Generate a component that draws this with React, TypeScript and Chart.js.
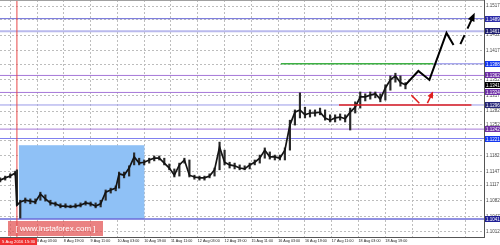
import { useEffect, useRef } from "react";
import { Chart, registerables } from "chart.js";

Chart.register(...registerables);

// ---------- axes ----------
const X_MIN = -22.1;
const X_MAX = 266.9;
const Y_MIN = 1.10008;
const Y_MAX = 1.15307;

const xTickBars = [-16, 0, 16, 32, 48, 64, 80, 96, 112, 128, 144, 160, 176, 192, 208, 224, 240, 256];
const xTickLabels = [
  "", "8 Aug 03:00", "8 Aug 19:00", "9 Aug 11:00", "10 Aug 03:00", "10 Aug 19:00", "11 Aug 11:00",
  "12 Aug 03:00", "12 Aug 19:00", "15 Aug 11:00", "16 Aug 03:00", "16 Aug 19:00", "17 Aug 11:00",
  "18 Aug 03:00", "18 Aug 19:00", "", "", "",
];
const yTickValues = [
  1.1012, 1.1047, 1.1082, 1.1117, 1.1147, 1.1182, 1.1217, 1.1252, 1.1282, 1.1317, 1.1352, 1.1387,
  1.1417, 1.1452, 1.1487, 1.1517,
];

// ---------- price (H1 bars, sampled) ----------
const priceBars = [
  -22, -19, -16, -13, -12, -10, -7, -4, -1, 2, 5, 8, 11, 14, 17, 20, 23, 26, 29, 32, 35, 38, 41, 44, 47,
  49, 52, 55, 58, 61, 64, 67, 70, 73, 76, 79, 82, 85, 88, 91, 94, 97, 100, 103, 106, 109, 112, 115, 118,
  121, 124, 127, 130, 133, 136, 139, 142, 145, 148, 151, 154, 157, 160, 163, 166, 169, 172, 175, 178,
  181, 184, 187, 190, 193, 196, 199, 202, 205, 208, 211, 214, 217, 220,
];
const priceClose = [
  1.1128, 1.1133, 1.1137, 1.1144, 1.1072, 1.1079, 1.1083, 1.1081, 1.1079, 1.1097, 1.1086, 1.1077, 1.1075,
  1.107, 1.107, 1.1068, 1.107, 1.1072, 1.1077, 1.1075, 1.107, 1.1075, 1.1101, 1.1106, 1.111, 1.1142,
  1.1139, 1.1155, 1.118, 1.1166, 1.1168, 1.1173, 1.1177, 1.1177, 1.1166, 1.1155, 1.1139, 1.1162, 1.1173,
  1.1139, 1.1135, 1.1133, 1.1133, 1.1137, 1.1151, 1.1202, 1.1168, 1.1162, 1.116, 1.1155, 1.1153, 1.1162,
  1.1168, 1.1177, 1.1195, 1.118, 1.118, 1.1177, 1.1195, 1.1251, 1.128, 1.1285, 1.1274, 1.1278, 1.1278,
  1.128, 1.1267, 1.1262, 1.1267, 1.1269, 1.1265, 1.128, 1.1291, 1.1314, 1.1314, 1.1318, 1.1321, 1.1309,
  1.1334, 1.1352, 1.1361, 1.1346, 1.1341,
];
const priceLow = [
  1.1124, 1.1128, 1.1133, 1.1139, 1.1072, 1.1043, 1.1077, 1.1075, 1.1075, 1.1083, 1.1081, 1.1072, 1.107,
  1.1066, 1.1066, 1.1066, 1.1066, 1.1068, 1.1072, 1.107, 1.1066, 1.1068, 1.1083, 1.1099, 1.1104, 1.111,
  1.1133, 1.1137, 1.1162, 1.1162, 1.1162, 1.1166, 1.1171, 1.1173, 1.1162, 1.1151, 1.1135, 1.1137, 1.1166,
  1.1135, 1.113, 1.1128, 1.1128, 1.1133, 1.1137, 1.1151, 1.1162, 1.1155, 1.1153, 1.1151, 1.1151, 1.1153,
  1.1162, 1.1166, 1.1177, 1.1175, 1.1173, 1.1173, 1.1173, 1.1195, 1.1251, 1.1267, 1.1267, 1.1269, 1.1271,
  1.1274, 1.1262, 1.1258, 1.1258, 1.1262, 1.1258, 1.124, 1.1278, 1.1289, 1.1305, 1.1309, 1.1312, 1.1303,
  1.1307, 1.1329, 1.1347, 1.1338, 1.1332,
];
const priceHigh = [
  1.1133, 1.1137, 1.1142, 1.1148, 1.1151, 1.1083, 1.1088, 1.1086, 1.1086, 1.1101, 1.1095, 1.1083, 1.1079,
  1.1075, 1.1075, 1.1072, 1.1075, 1.1077, 1.1081, 1.1079, 1.1077, 1.1083, 1.1106, 1.111, 1.1115, 1.1146,
  1.1146, 1.116, 1.1189, 1.1177, 1.1173, 1.1177, 1.1182, 1.1182, 1.1177, 1.1164, 1.1153, 1.1166, 1.1177,
  1.1173, 1.1139, 1.1137, 1.1137, 1.1142, 1.1155, 1.1213, 1.1195, 1.1168, 1.1166, 1.1162, 1.116, 1.1166,
  1.1173, 1.1184, 1.12, 1.1191, 1.1184, 1.1184, 1.12, 1.1262, 1.1285, 1.1323, 1.1291, 1.1285, 1.1285,
  1.1289, 1.1285, 1.1274, 1.1274, 1.1276, 1.1274, 1.1289, 1.1303, 1.1325, 1.1321, 1.1325, 1.1325, 1.1321,
  1.1341, 1.1361, 1.1367, 1.1361, 1.1346,
];

// ---------- drawn objects ----------
const levelValues = [1.1489, 1.1461, 1.1388, 1.1362, 1.1324, 1.1296, 1.1242, 1.1221, 1.1041];
const levelFrom = [null, null, 236.7, null, null, null, null, null, null];
const levelColors = ["#6b6bd8", "#b9b9ec", "#7f7fe8", "#a678d8", "#a678d8", "#9a9ae8", "#a678d8", "#8080f0", "#6b6bd8"];
const levelWidths = [1, 2, 1, 1, 1, 1, 1, 1, 1.5];
const levelBoxColors = ["#2b2ba8", "#1c1c6e", "#1437f0", "#6e2fa6", "#6e2fa6", "#262678", "#6e2fa6", "#1437f0", "#1f1f96"];

const bidValue = 1.1341;

const greenBars = [145.6, 236.7];
const greenValue = 1.1388;

const rectBars = [-10.8, 64.1];
const rectValues = [1.1041, 1.1206];

const markerBar = -12;
const markerLabel = "5 Aug 2016 15:30";

const forecastBars = [220, 227.7, 234.3, 244.5, 248.7];
const forecastValues = [1.1341, 1.1372, 1.1352, 1.1457, 1.143];
const forecastDashBars = [252.8, 261];
const forecastDashValues = [1.1432, 1.1499];

const redLineBars = [180.3, 259.4];
const redLineValue = 1.1296;
const redSlashBars = [223.5, 228.3];
const redSlashValues = [1.1318, 1.13];
const redArrowBars = [233.1, 236.1];
const redArrowValues = [1.13, 1.1323];

const watermark = "[ www.instaforex.com ]";

const FONT = '"Liberation Sans", Arial, sans-serif';

function arrowHead(ctx: CanvasRenderingContext2D, fx: number, fy: number, tx: number, ty: number, len: number, half: number, color: string) {
  const a = Math.atan2(ty - fy, tx - fx);
  const c = Math.cos(a), s = Math.sin(a);
  const bx = tx - c * len, by = ty - s * len;
  ctx.save();
  ctx.fillStyle = color;
  ctx.beginPath();
  ctx.moveTo(tx + c * 1.5, ty + s * 1.5);
  ctx.lineTo(bx - s * half, by + c * half);
  ctx.lineTo(bx + s * half, by - c * half);
  ctx.closePath();
  ctx.fill();
  ctx.restore();
}

export default function App() {
  const ref = useRef<HTMLCanvasElement>(null);

  useEffect(() => {
    const canvas = ref.current;
    if (!canvas) return;

    const seg = (bars: number[], vals: number[]) => bars.map((b, i) => ({ x: b, y: vals[i] }));
    const hline = (from: number, to: number, v: number) => [{ x: from, y: v }, { x: to, y: v }];

    const datasets: any[] = [];
    levelValues.forEach((v, i) => {
      datasets.push({
        type: "line",
        data: hline(levelFrom[i] ?? X_MIN, X_MAX, v),
        borderColor: levelColors[i],
        borderWidth: levelWidths[i],
        pointRadius: 0,
        order: 30,
      });
    });
    datasets.push({
      type: "line",
      data: hline(greenBars[0], greenBars[1], greenValue),
      borderColor: "#3cb043",
      borderWidth: 1.5,
      pointRadius: 0,
      order: 29,
    });
    datasets.push({
      type: "line",
      data: [{ x: markerBar, y: Y_MIN }, { x: markerBar, y: Y_MAX }],
      borderColor: "#e84848",
      borderWidth: 1,
      pointRadius: 0,
      order: 28,
    });
    datasets.push({
      type: "bar",
      data: priceBars.map((b, i) => ({ x: b, y: [priceLow[i], priceHigh[i]] })),
      backgroundColor: "#2a2a2a",
      borderWidth: 0,
      barThickness: 1.5,
      order: 10,
    });
    datasets.push({
      type: "line",
      data: seg(priceBars, priceClose),
      borderColor: "#141414",
      borderWidth: 1.7,
      pointRadius: 0,
      tension: 0,
      order: 9,
    });
    datasets.push({
      type: "line",
      data: hline(redLineBars[0], redLineBars[1], redLineValue),
      borderColor: "#e02020",
      borderWidth: 1.5,
      pointRadius: 0,
      order: 5,
    });
    datasets.push({
      type: "line",
      data: seg(redSlashBars, redSlashValues),
      borderColor: "#e02020",
      borderWidth: 1.5,
      pointRadius: 0,
      order: 4,
    });
    datasets.push({
      type: "line",
      data: seg(redArrowBars, redArrowValues),
      borderColor: "#e02020",
      borderWidth: 1.5,
      pointRadius: 0,
      order: 4,
    });
    datasets.push({
      type: "line",
      data: seg(forecastBars, forecastValues),
      borderColor: "#000000",
      borderWidth: 2,
      pointRadius: 0,
      tension: 0,
      order: 2,
    });
    datasets.push({
      type: "line",
      data: seg(forecastDashBars, forecastDashValues),
      borderColor: "#000000",
      borderWidth: 2,
      borderDash: [10, 7],
      pointRadius: 0,
      order: 2,
    });

    const overlay = {
      id: "overlay",
      beforeDatasetsDraw(chart: any) {
        const { ctx, scales } = chart;
        const x = scales.x, y = scales.y;
        const x0 = x.getPixelForValue(rectBars[0]);
        const x1 = x.getPixelForValue(rectBars[1]);
        const y0 = y.getPixelForValue(rectValues[1]);
        const y1 = y.getPixelForValue(rectValues[0]);
        ctx.save();
        ctx.fillStyle = "#8fc1f6";
        ctx.fillRect(x0, y0, x1 - x0, y1 - y0);
        ctx.restore();
      },
      afterDatasetsDraw(chart: any) {
        const { ctx, scales } = chart;
        const x = scales.x, y = scales.y;
        const n = forecastDashBars.length;
        arrowHead(
          ctx,
          x.getPixelForValue(forecastDashBars[n - 2]), y.getPixelForValue(forecastDashValues[n - 2]),
          x.getPixelForValue(forecastDashBars[n - 1]), y.getPixelForValue(forecastDashValues[n - 1]),
          7, 3.5, "#000000"
        );
        arrowHead(
          ctx,
          x.getPixelForValue(redArrowBars[0]), y.getPixelForValue(redArrowValues[0]),
          x.getPixelForValue(redArrowBars[1]), y.getPixelForValue(redArrowValues[1]),
          5, 3, "#e02020"
        );
      },
      afterDraw(chart: any) {
        const { ctx, scales, chartArea } = chart;
        const x = scales.x, y = scales.y;
        ctx.save();
        // top frame
        ctx.strokeStyle = "#a0a0a0";
        ctx.lineWidth = 1;
        ctx.beginPath();
        ctx.moveTo(chartArea.left, chartArea.top + 0.5);
        ctx.lineTo(chartArea.right, chartArea.top + 0.5);
        ctx.stroke();

        // price-axis boxes
        ctx.font = `4.5px ${FONT}`;
        ctx.textBaseline = "middle";
        ctx.textAlign = "left";
        const boxes = levelValues.map((v, i) => ({ v, c: levelBoxColors[i] }));
        boxes.push({ v: bidValue, c: "#000000" });
        boxes.forEach((b) => {
          const py = Math.round(y.getPixelForValue(b.v));
          ctx.fillStyle = b.c;
          ctx.fillRect(chartArea.right + 1, py - 3, 16, 6);
          ctx.fillStyle = "#ffffff";
          ctx.fillText(b.v.toFixed(4), chartArea.right + 2, py + 0.3);
        });

        // time label of the vertical marker
        const mx = x.getPixelForValue(markerBar);
        ctx.font = `4.2px ${FONT}`;
        const tw = ctx.measureText(markerLabel).width + 4;
        const left = Math.max(0, mx - tw / 2);
        ctx.fillStyle = "#f03030";
        ctx.fillRect(left, chartArea.bottom + 1, tw, 7);
        ctx.fillStyle = "#ffffff";
        ctx.fillText(markerLabel, left + 2, chartArea.bottom + 4.6);

        // watermark
        ctx.fillStyle = "rgba(226, 80, 80, 0.72)";
        ctx.fillRect(8, 221, 95, 15);
        ctx.fillStyle = "#ffffff";
        ctx.font = `8px ${FONT}`;
        ctx.textAlign = "center";
        ctx.fillText(watermark, 55.5, 228.8);
        ctx.restore();
      },
    };

    const chart = new Chart(canvas, {
      type: "line",
      data: { datasets },
      options: {
        animation: false,
        responsive: false,
        maintainAspectRatio: false,
        events: [],
        layout: { padding: 0 },
        plugins: { legend: { display: false }, tooltip: { enabled: false }, title: { display: false } },
        scales: {
          x: {
            type: "linear",
            min: X_MIN,
            max: X_MAX,
            offset: false,
            position: "bottom",
            grid: { color: "#bdbdbd", lineWidth: 1, drawTicks: false, offset: false },
            border: { display: true, color: "#555555", width: 1, dash: [2, 2] },
            afterBuildTicks: (scale: any) => {
              scale.ticks = xTickBars.map((v) => ({ value: v }));
            },
            afterFit: (scale: any) => {
              scale.height = 8;
              scale.paddingLeft = 0;
              scale.paddingRight = 0;
            },
            ticks: {
              autoSkip: false,
              maxRotation: 0,
              minRotation: 0,
              align: "start",
              padding: 1.5,
              color: "#222222",
              font: { size: 3.7, family: FONT },
              callback: (_v: any, i: number) => xTickLabels[i] ?? "",
            },
          },
          y: {
            type: "linear",
            position: "right",
            min: Y_MIN,
            max: Y_MAX,
            beginAtZero: false,
            grid: { color: "#bdbdbd", lineWidth: 1, drawTicks: false },
            border: { display: true, color: "#555555", width: 1, dash: [2, 2] },
            afterBuildTicks: (scale: any) => {
              scale.ticks = yTickValues.map((v) => ({ value: v }));
            },
            afterFit: (scale: any) => {
              scale.width = 16;
              scale.paddingTop = 0;
              scale.paddingBottom = 0;
            },
            ticks: {
              autoSkip: false,
              padding: 2,
              color: "#444444",
              font: { size: 4.5, family: FONT },
              callback: (v: any) => Number(v).toFixed(4),
            },
          },
        },
      },
      plugins: [overlay],
    } as any);

    return () => chart.destroy();
  }, []);

  return (
    <div style={{ position: "fixed", left: 0, top: 0, width: 500, height: 245, background: "#ffffff" }}>
      <canvas ref={ref} width={500} height={245} style={{ width: 500, height: 245, display: "block" }} />
    </div>
  );
}
